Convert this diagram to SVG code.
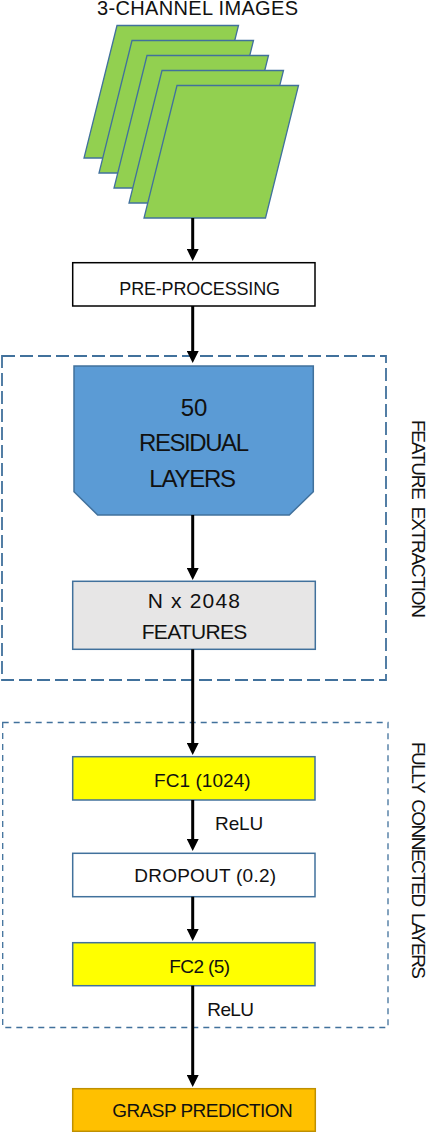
<svg xmlns="http://www.w3.org/2000/svg" width="428" height="1132" viewBox="0 0 428 1132">
<defs>
<style>
.t{font-family:"Liberation Sans",Arial,sans-serif;fill:#111;}
.sheet{fill:#92D050;stroke:#41719C;stroke-width:1.3;}
.box{stroke:#41719C;stroke-width:1.5;}
.conn{stroke:#000;stroke-width:3;fill:none;marker-end:url(#ah);}
.grp{fill:none;stroke:#41719C;}
</style>
<marker id="ah" markerUnits="userSpaceOnUse" markerWidth="12" markerHeight="12" viewBox="0 0 12 12" refX="6" refY="6" orient="auto">
<path d="M0,0 L12,6 L0,12 z" fill="#000"/>
</marker>
</defs>
<rect width="428" height="1132" fill="#fff"/>

<g id="group-feature-extraction">
<rect class="grp" x="2" y="356" width="384" height="324" stroke-width="1.8" stroke-dasharray="13 5"/>
<text class="t" font-size="19" transform="translate(412,420) rotate(90)" textLength="198" style="white-space:pre">FEATURE  EXTRACTION</text>
</g>
<g id="group-fully-connected">
<rect class="grp" x="2.7" y="722.5" width="385.3" height="305" stroke-width="1.3" stroke-dasharray="6 5"/>
<text class="t" font-size="19" transform="translate(412,742) rotate(90)" textLength="237" style="white-space:pre">FULLY  CONNECTED  LAYERS</text>
</g>

<g id="images">
<text class="t" font-size="20" x="97" y="15" textLength="201">3-CHANNEL IMAGES</text>
<polygon class="sheet" points="117,25.5 238.5,25.5 205.5,158 84,158"/>
<polygon class="sheet" points="132,40.5 253.5,40.5 220.5,173 99,173"/>
<polygon class="sheet" points="147,55.5 268.5,55.5 235.5,188 114,188"/>
<polygon class="sheet" points="162,70.5 283.5,70.5 250.5,203 129,203"/>
<polygon class="sheet" points="177,85.5 298.5,85.5 265.5,218 144,218"/>
</g>

<g id="pre-processing">
<rect x="72.7" y="262.7" width="242.3" height="43.3" fill="#fff" stroke="#000" stroke-width="1.5"/>
<text class="t" font-size="18" x="119.3" y="294.5" textLength="160.7">PRE-PROCESSING</text>
</g>

<g id="residual-layers">
<path class="box" fill="#5B9BD5" d="M74,366 H313.3 V491.7 L289.3,515 H97.7 L74,491.7 Z"/>
<text class="t" font-size="24" x="194" y="415.7" text-anchor="middle">50</text>
<text class="t" font-size="24" x="194" y="451" text-anchor="middle" textLength="110">RESIDUAL</text>
<text class="t" font-size="24" x="192.7" y="486.7" text-anchor="middle" textLength="86.7">LAYERS</text>
</g>

<g id="features">
<rect class="box" x="72.7" y="581.3" width="242.6" height="68" fill="#E7E6E6"/>
<text class="t" font-size="21" x="147.7" y="607.7" textLength="92.3">N x 2048</text>
<text class="t" font-size="21" x="141.7" y="639.3" textLength="105.6">FEATURES</text>
</g>

<g id="fc1">
<rect class="box" x="72.7" y="756.7" width="242.3" height="43.3" fill="#FFFF00"/>
<text class="t" font-size="19" x="154" y="787.3" textLength="96.7">FC1 (1024)</text>
</g>

<g id="dropout">
<rect class="box" x="72.7" y="853.3" width="242.3" height="43.4" fill="#fff"/>
<text class="t" font-size="19" x="134.3" y="881.7" textLength="141.7">DROPOUT (0.2)</text>
</g>

<g id="fc2">
<rect class="box" x="72.7" y="942.7" width="242.3" height="43" fill="#FFFF00"/>
<text class="t" font-size="19" x="169.3" y="973.3" textLength="60.7">FC2 (5)</text>
</g>

<g id="grasp-prediction">
<rect x="72.7" y="1088.7" width="242.6" height="42.6" fill="#FFC000" stroke="#BF9000" stroke-width="1.5"/>
<text class="t" font-size="19" x="112.3" y="1116.7" textLength="180.4">GRASP PREDICTION</text>
</g>

<g id="connectors">
<line class="conn" x1="192.7" y1="218" x2="192.7" y2="255"/>
<line class="conn" x1="192.7" y1="306" x2="192.7" y2="357"/>
<line class="conn" x1="192.7" y1="515" x2="192.7" y2="574"/>
<line class="conn" x1="192.7" y1="649.3" x2="192.7" y2="749"/>
<line class="conn" x1="192.7" y1="800" x2="192.7" y2="845"/>
<line class="conn" x1="192.7" y1="896.7" x2="192.7" y2="935"/>
<line class="conn" x1="192.7" y1="985.7" x2="192.7" y2="1081"/>
<text class="t" font-size="19" x="215" y="830" textLength="48.3">ReLU</text>
<text class="t" font-size="19" x="207.3" y="1016" textLength="46.7">ReLU</text>
</g>
</svg>
